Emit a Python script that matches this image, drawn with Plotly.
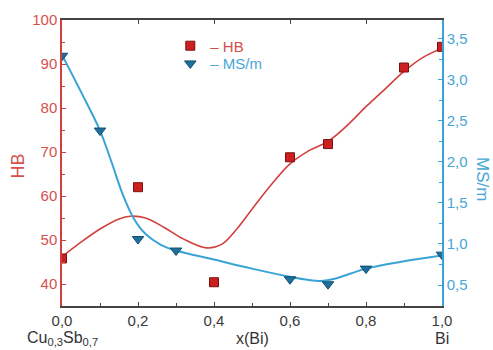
import plotly.graph_objects as go

# measured points
hb_x = [0.0, 0.2, 0.4, 0.6, 0.7, 0.9, 1.0]
hb_val = [45.8, 62.0, 40.4, 68.8, 71.8, 89.2, 93.9]
ms_x = [0.0, 0.1, 0.2, 0.3, 0.6, 0.7, 0.8, 1.0]
ms_val = [3.29, 2.38, 1.06, 0.92, 0.57, 0.51, 0.70, 0.87]

# smoothed curves
hb_fit_x = [0.0, 0.05, 0.1, 0.15, 0.18, 0.22, 0.27, 0.32, 0.38, 0.42, 0.46, 0.5, 0.55, 0.6, 0.65, 0.7, 0.75, 0.8, 0.85, 0.9, 0.95, 1.0]
hb_fit = [46.2, 49.5, 52.5, 54.8, 55.4, 55.0, 52.8, 50.2, 48.2, 49.0, 52.5, 57.0, 62.5, 67.3, 70.3, 72.4, 76.0, 80.3, 84.3, 88.3, 91.5, 93.6]
ms_fit_x = [0.0, 0.05, 0.1, 0.13, 0.16, 0.19, 0.22, 0.26, 0.3, 0.4, 0.5, 0.6, 0.65, 0.68, 0.72, 0.76, 0.8, 0.9, 1.0]
ms_fit = [3.30, 2.85, 2.38, 2.00, 1.60, 1.30, 1.12, 0.99, 0.92, 0.81, 0.70, 0.60, 0.56, 0.55, 0.58, 0.64, 0.70, 0.79, 0.86]

x_ticks = [0.0, 0.2, 0.4, 0.6, 0.8, 1.0]

RED = "#d2403c"
RED_TXT = "#d5504c"
BLUE = "#3aa3d6"
BLUE_TXT = "#46a6d6"
GRAY = "#444444"
FONT = "Liberation Sans, Arial, sans-serif"

fig = go.Figure()
fig.add_trace(go.Scatter(x=hb_fit_x, y=hb_fit, mode="lines", line=dict(color=RED, width=1.6, shape="spline"),
                         showlegend=False, hoverinfo="skip"))
fig.add_trace(go.Scatter(x=ms_fit_x, y=ms_fit, mode="lines", line=dict(color=BLUE, width=2, shape="spline"),
                         yaxis="y2", showlegend=False, hoverinfo="skip"))
fig.add_trace(go.Scatter(x=hb_x, y=hb_val, mode="markers", legend="legend",
                         marker=dict(symbol="square", size=9, color="#cc2020", line=dict(color="#7a1010", width=1)),
                         name="<span style='color:%s'>– HB</span>" % RED_TXT))
fig.add_trace(go.Scatter(x=ms_x, y=ms_val, mode="markers", yaxis="y2", legend="legend2",
                         marker=dict(symbol="triangle-down", size=10, color="#1f6f9c", line=dict(color="#134f70", width=1)),
                         name="<span style='color:%s'>– MS/m</span>" % BLUE_TXT))
# dummy trace to activate top axis
fig.add_trace(go.Scatter(x=[0, 1], y=[None, None], xaxis="x2", showlegend=False, hoverinfo="skip"))

fig.update_layout(
    width=493, height=350,
    margin=dict(l=62, r=51, t=20, b=44),
    paper_bgcolor="white", plot_bgcolor="white",
    separators=",.",
    font=dict(family=FONT, size=15, color="#333333"),
    xaxis=dict(range=[0, 1], tickvals=x_ticks, tickformat=".1f", ticks="inside", ticklen=4, tickcolor=GRAY,
               showline=True, linecolor=GRAY, linewidth=1.5, showgrid=False, zeroline=False,
               minor=dict(dtick=0.1, tick0=0, ticks="inside", ticklen=3, tickcolor=GRAY),
               tickfont=dict(size=15, color="#3a3a3a")),
    xaxis2=dict(range=[0, 1], overlaying="x", side="top", tickvals=x_ticks, ticks="inside", ticklen=4,
                tickcolor=GRAY, showticklabels=False, showline=True, linecolor=GRAY, linewidth=1.5,
                showgrid=False, zeroline=False),
    yaxis=dict(range=[35, 100], dtick=10, tick0=0, ticks="inside", ticklen=4, tickcolor=RED,
               showline=True, linecolor=RED, linewidth=1.5, showgrid=False, zeroline=False,
               minor=dict(dtick=5, tick0=0, ticks="inside", ticklen=3, tickcolor=RED),
               tickfont=dict(size=15, color=RED_TXT)),
    yaxis2=dict(range=[0.245, 3.725], overlaying="y", side="right", dtick=0.5, tick0=0, tickformat=".1f",
                ticks="inside", ticklen=4, tickcolor=BLUE, showline=True, linecolor=BLUE, linewidth=1.5,
                showgrid=False, zeroline=False,
                minor=dict(dtick=0.25, tick0=0, ticks="inside", ticklen=3, tickcolor=BLUE),
                tickfont=dict(size=15, color=BLUE_TXT)),
    legend=dict(x=0.285, y=0.967, xanchor="left", yanchor="top", bgcolor="rgba(0,0,0,0)",
                font=dict(size=15), itemwidth=30),
    legend2=dict(x=0.285, y=0.905, xanchor="left", yanchor="top", bgcolor="rgba(0,0,0,0)",
                 font=dict(size=15), itemwidth=30),
    showlegend=True,
)

fig.add_annotation(text="HB", textangle=-90, xref="paper", yref="paper", x=-0.117, y=0.49,
                   showarrow=False, font=dict(size=18, color=RED_TXT), xanchor="center", yanchor="middle")
fig.add_annotation(text="MS/m", textangle=90, xref="paper", yref="paper", x=1.108, y=0.444,
                   showarrow=False, font=dict(size=17, color=BLUE_TXT), xanchor="center", yanchor="middle")
fig.add_annotation(text="Cu<sub>0,3</sub>Sb<sub>0,7</sub>", xref="x", yref="paper", x=0, y=-0.115,
                   showarrow=False, font=dict(size=16, color="#333333"), xanchor="center", yanchor="middle")
fig.add_annotation(text="x(Bi)", xref="x", yref="paper", x=0.5, y=-0.115,
                   showarrow=False, font=dict(size=16, color="#333333"), xanchor="center", yanchor="middle")
fig.add_annotation(text="Bi", xref="x", yref="paper", x=1.0, y=-0.115,
                   showarrow=False, font=dict(size=16, color="#333333"), xanchor="center", yanchor="middle")

fig.write_html("out.html")
